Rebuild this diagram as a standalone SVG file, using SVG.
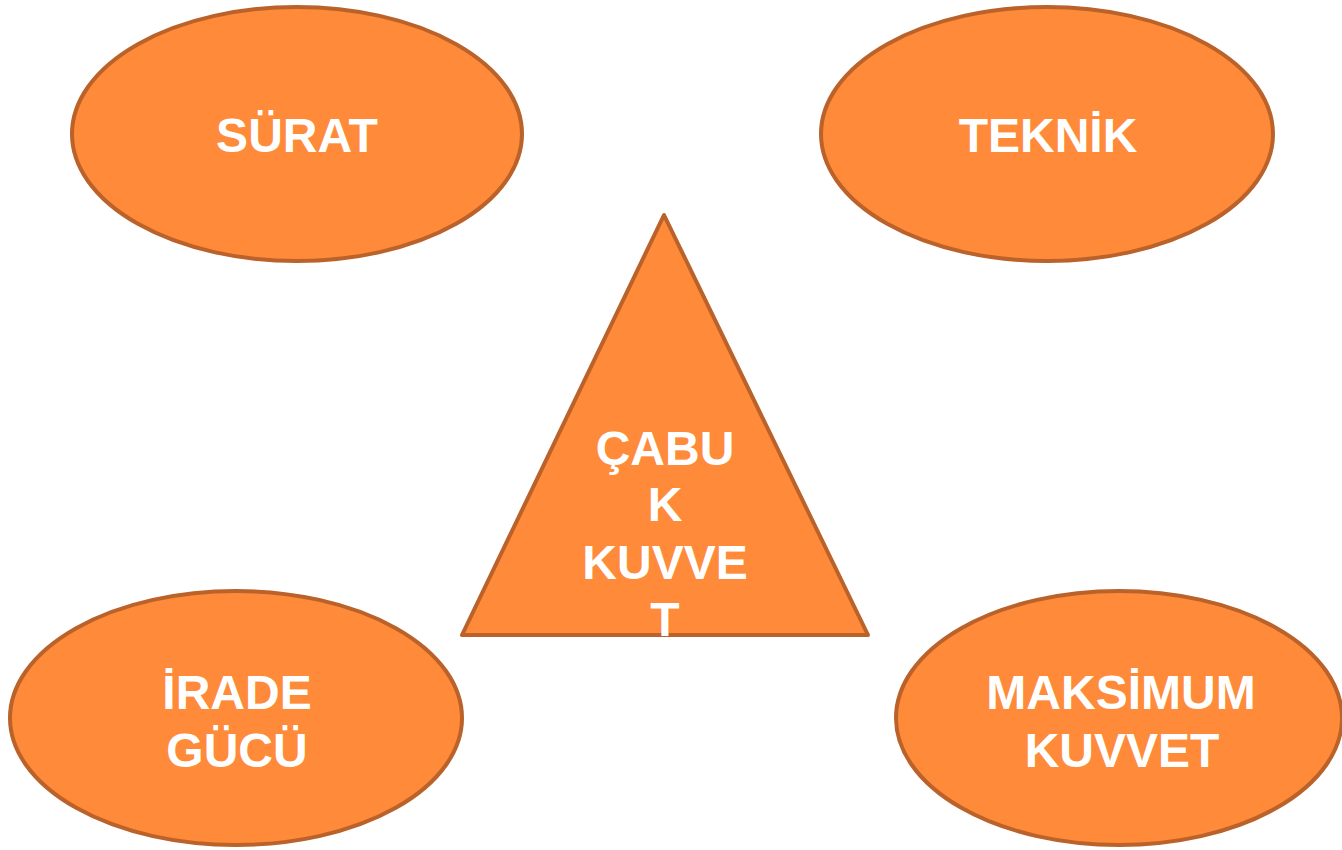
<svg xmlns="http://www.w3.org/2000/svg" width="1342" height="850" viewBox="0 0 1342 850">
<style>
.shape{fill:#FE8A3A;stroke:#BA622A;stroke-width:4;stroke-linejoin:round}
.lbl{font-family:"Liberation Sans",Arial,sans-serif;font-weight:bold;font-size:48px;fill:#FFFFFF;text-anchor:middle}
</style>
<rect width="1342" height="850" fill="#FFFFFF"/>
<g id="surat">
<ellipse class="shape" cx="297" cy="134" rx="225" ry="127"/>
<text class="lbl" x="297" y="152">SÜRAT</text>
</g>
<g id="teknik">
<ellipse class="shape" cx="1047" cy="134" rx="226" ry="127"/>
<text class="lbl" x="1048" y="152">TEKNİK</text>
</g>
<g id="cabuk-kuvvet">
<polygon class="shape" points="664,215 462,635 868,635"/>
<text class="lbl" x="665" y="465">ÇABU</text>
<text class="lbl" x="665" y="521">K</text>
<text class="lbl" x="665" y="579">KUVVE</text>
<text class="lbl" x="665" y="636">T</text>
</g>
<g id="irade-gucu">
<ellipse class="shape" cx="236" cy="718" rx="226" ry="127"/>
<text class="lbl" x="237" y="709">İRADE</text>
<text class="lbl" x="237" y="767">GÜCÜ</text>
</g>
<g id="maksimum-kuvvet">
<ellipse class="shape" cx="1119" cy="718" rx="223" ry="127"/>
<text class="lbl" x="1121" y="709">MAKSİMUM</text>
<text class="lbl" x="1122" y="767">KUVVET</text>
</g>
<g id="connectors"></g>
</svg>
